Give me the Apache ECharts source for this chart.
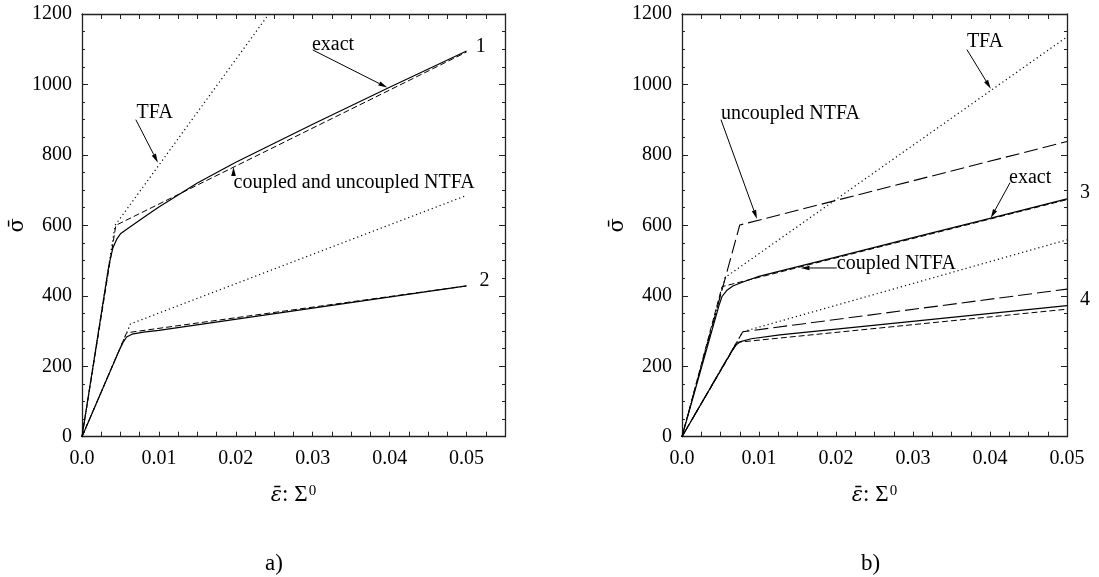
<!DOCTYPE html>
<html><head><meta charset="utf-8">
<script src="https://cdn.jsdelivr.net/npm/echarts@6/dist/echarts.min.js"></script>
<style>html,body{margin:0;padding:0;background:#fff}#c{width:1099px;height:577px}</style>
</head><body><div id="c"></div>
<script>
// ---------- data (panel a) ----------
const exact1X = [0, 0.0035, 0.004, 0.0045, 0.005, 0.006, 0.008, 0.01, 0.015, 0.02, 0.03, 0.04, 0.05];
const exact1Y = [0, 487, 535, 560, 576, 592, 622, 652, 720, 779, 887, 992, 1095];
const ntfa1X = [0, 0.0044, 0.05];
const ntfa1Y = [0, 600, 1092];
const tfa1X = [0, 0.0043, 0.0243];
const tfa1Y = [0, 600, 1200];
const exact2X = [0, 0.0048, 0.0054, 0.0058, 0.0065, 0.008, 0.01, 0.05];
const exact2Y = [0, 243, 270, 283, 291, 297, 302, 428];
const ntfa2X = [0, 0.0058, 0.05];
const ntfa2Y = [0, 295, 428];
const tfa2X = [0, 0.0063, 0.05];
const tfa2Y = [0, 320, 685];
// ---------- data (panel b) ----------
const exact3X = [0, 0.0048, 0.0052, 0.0058, 0.0066, 0.008, 0.01, 0.0127, 0.02, 0.03, 0.04, 0.05];
const exact3Y = [0, 372, 398, 415, 428, 440, 455, 470, 510, 565, 620, 675];
const cntfa3X = [0, 0.0052, 0.05];
const cntfa3Y = [0, 426, 673];
const untfa3X = [0, 0.0075, 0.05];
const untfa3Y = [0, 601, 838];
const tfa3X = [0, 0.0056, 0.05];
const tfa3Y = [0, 452, 1135];
const exact4X = [0, 0.0066, 0.0071, 0.0076, 0.009, 0.0127, 0.05];
const exact4Y = [0, 248, 262, 270, 278, 289, 372];
const cntfa4X = [0, 0.0072, 0.05];
const cntfa4Y = [0, 268, 362];
const untfa4X = [0, 0.0079, 0.05];
const untfa4Y = [0, 298, 419];
const tfa4X = [0, 0.0079, 0.05];
const tfa4Y = [0, 298, 559];
// ---------- axes ----------
const yTicks = [0, 1200, 200];         // min, max, interval
const xMaxA = 0.055, xMaxB = 0.05, xStep = 0.0025;
// ---------- annotations (data coordinates) ----------
const annA = [
  {text: 'exact', at: [0.0299, 1114], from: [0.0300, 1098], to: [0.0397, 991]},
  {text: 'TFA', at: [0.0071, 920], from: [0.0070, 900], to: [0.00987, 778]},
  {text: 'coupled and uncoupled NTFA', at: [0.0197, 721], from: [0.0197, 742], to: [0.0197, 766]},
  {text: '1', at: [0.0512, 1108]},
  {text: '2', at: [0.0517, 443]}
];
const annB = [
  {text: 'uncoupled NTFA', at: [0.00506, 917], from: [0.00506, 900], to: [0.00974, 618]},
  {text: 'TFA', at: [0.0370, 1122], from: [0.0370, 1099], to: [0.0401, 988]},
  {text: 'exact', at: [0.04247, 735], from: [0.0426, 721], to: [0.0401, 621]},
  {text: 'coupled NTFA', at: [0.0201, 490], from: [0.0201, 479], to: [0.0154, 479]},
  {text: '3', at: [0.0517, 692]},
  {text: '4', at: [0.0517, 389]}
];

const FONT = '"Liberation Serif", "Times New Roman", serif';
const GREEK = '"DejaVu Serif", serif';
const BLACK = '#000';
const pairs = (xs, ys) => xs.map((x, i) => [x, ys[i]]);

function xAx(grid, max, pos, labels) {
  return {
    type: 'value', gridIndex: grid, position: pos, min: 0, max: max, interval: xStep,
    axisLine: {show: true, onZero: false, lineStyle: {color: '#222', width: 1.3}},
    axisTick: {show: true, inside: true, length: 5, lineStyle: {color: '#222'}},
    splitLine: {show: false},
    axisLabel: {
      show: labels, color: BLACK, fontFamily: FONT, fontSize: 20, margin: 12,
      formatter: v => {
        if (v > 0.0505) return '';
        if (Math.abs(v * 100 - Math.round(v * 100)) > 1e-6) return '';
        return v === 0 ? '0.0' : (+v.toFixed(2)).toString();
      }
    },
    name: labels ? '{e|ε̄}{m|: Σ}{s|0}' : '',
    nameLocation: 'middle', nameGap: 47,
    nameTextStyle: {
      rich: {
        e: {fontSize: 21, fontFamily: GREEK, color: BLACK, fontStyle: 'italic'},
        m: {fontSize: 23, fontFamily: FONT, color: BLACK},
        s: {fontSize: 15, fontFamily: FONT, color: BLACK, verticalAlign: 'top', padding: [0, 0, 0, 1]}
      }
    }
  };
}
function yAx(grid, pos, labels) {
  return {
    type: 'value', gridIndex: grid, position: pos, min: yTicks[0], max: yTicks[1], interval: yTicks[2],
    axisLine: {show: true, onZero: false, lineStyle: {color: '#222', width: 1.3}},
    axisTick: {show: true, inside: true, length: 6, lineStyle: {color: '#222'}},
    minorTick: {show: true, splitNumber: 4, length: 3, lineStyle: {color: '#222'}},
    splitLine: {show: false}, minorSplitLine: {show: false},
    axisLabel: {show: labels, color: BLACK, fontFamily: FONT, fontSize: 20, margin: 10, formatter: v => String(v)},
    name: labels ? 'σ̄' : '', nameLocation: 'middle', nameRotate: 90, nameGap: 54,
    nameTextStyle: {fontSize: 21, fontFamily: GREEK, color: BLACK}
  };
}
function ser(grid, xs, ys, type, width) {
  return {
    type: 'line', xAxisIndex: grid, yAxisIndex: grid, data: pairs(xs, ys),
    showSymbol: false, symbol: 'none', clip: true, silent: true,
    lineStyle: {color: BLACK, width: width, type: type}
  };
}
const SOLID = 'solid', DASH = [6, 3], LDASH = [14, 5], DOT = [1.2, 3];

const option = {
  animation: false,
  backgroundColor: '#fff',
  title: [
    {text: 'a)', left: 260, top: 547, textStyle: {fontFamily: FONT, fontSize: 23, fontWeight: 'normal', color: BLACK}},
    {text: 'b)', left: 856, top: 547, textStyle: {fontFamily: FONT, fontSize: 23, fontWeight: 'normal', color: BLACK}}
  ],
  grid: [
    {left: 82, top: 14, width: 423, height: 422.7},
    {left: 682, top: 14, width: 385, height: 422.7}
  ],
  xAxis: [xAx(0, xMaxA, 'bottom', true), xAx(1, xMaxB, 'bottom', true), xAx(0, xMaxA, 'top', false), xAx(1, xMaxB, 'top', false)],
  yAxis: [yAx(0, 'left', true), yAx(1, 'left', true), yAx(0, 'right', false), yAx(1, 'right', false)],
  series: [
    ser(0, tfa1X, tfa1Y, DOT, 1.2),
    ser(0, tfa2X, tfa2Y, DOT, 1.2),
    ser(0, ntfa1X, ntfa1Y, DASH, 1),
    ser(0, ntfa2X, ntfa2Y, DASH, 1),
    ser(0, exact1X, exact1Y, SOLID, 1.2),
    ser(0, exact2X, exact2Y, SOLID, 1.2),
    ser(1, tfa3X, tfa3Y, DOT, 1.2),
    ser(1, tfa4X, tfa4Y, DOT, 1.2),
    ser(1, untfa3X, untfa3Y, LDASH, 1.1),
    ser(1, untfa4X, untfa4Y, LDASH, 1.1),
    ser(1, cntfa3X, cntfa3Y, DASH, 1),
    ser(1, cntfa4X, cntfa4Y, DASH, 1),
    ser(1, exact3X, exact3Y, SOLID, 1.2),
    ser(1, exact4X, exact4Y, SOLID, 1.2)
  ]
};

const chart = echarts.init(document.getElementById('c'), null, {renderer: 'canvas'});
chart.setOption(option);

function buildAnn(grid, list) {
  const els = [];
  list.forEach(a => {
    const p = chart.convertToPixel({gridIndex: grid}, a.at);
    els.push({type: 'text', z: 50, style: {text: a.text, x: p[0], y: p[1], fontSize: 20, fontFamily: FONT, fill: BLACK, align: 'left', verticalAlign: 'middle'}});
    if (a.from) {
      const s = chart.convertToPixel({gridIndex: grid}, a.from);
      const t = chart.convertToPixel({gridIndex: grid}, a.to);
      const dx = t[0] - s[0], dy = t[1] - s[1];
      const L = Math.hypot(dx, dy), ux = dx / L, uy = dy / L;
      const hl = 9, hw = 2.3;
      const bx = t[0] - ux * hl, by = t[1] - uy * hl;
      els.push({type: 'line', z: 50, shape: {x1: s[0], y1: s[1], x2: bx, y2: by}, style: {stroke: BLACK, lineWidth: 1}});
      els.push({type: 'polygon', z: 50, shape: {points: [[t[0], t[1]], [bx - uy * hw, by + ux * hw], [bx + uy * hw, by - ux * hw]]}, style: {fill: BLACK}});
    }
  });
  return els;
}
chart.setOption({graphic: buildAnn(0, annA).concat(buildAnn(1, annB))});
</script>
</body></html>
